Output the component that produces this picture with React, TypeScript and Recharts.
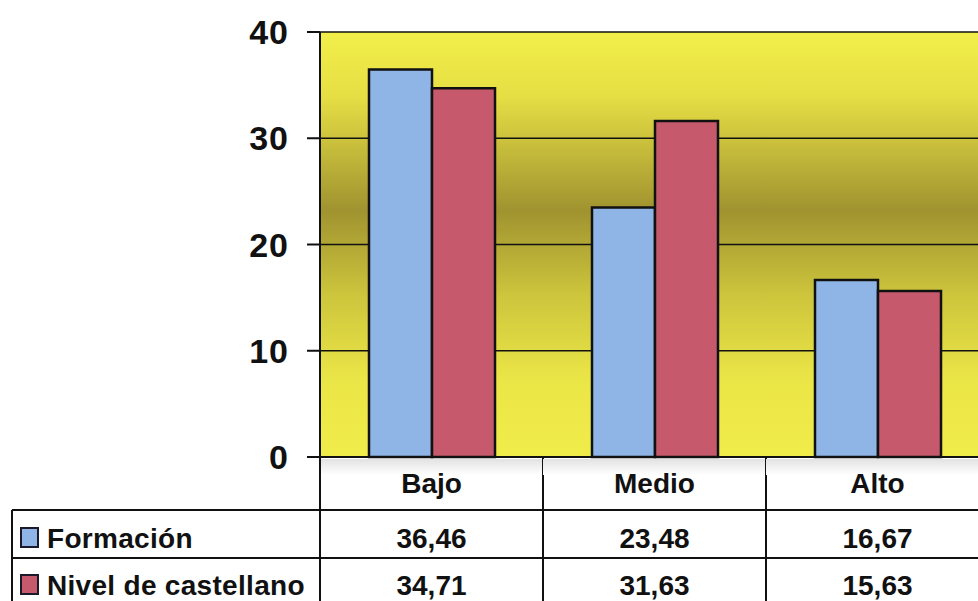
import React from 'react';
import { BarChart, Bar, XAxis, YAxis, CartesianGrid } from 'recharts';

const categories = ['Bajo', 'Medio', 'Alto'];
const formacion = [36.46, 23.48, 16.67];
const nivelCastellano = [34.71, 31.63, 15.63];
const seriesNames = ['Formación', 'Nivel de castellano'];
const yTicks = [0, 10, 20, 30, 40];

const colors = ['#8fb4e6', '#c65a6c'];
const font = '"Liberation Sans", Arial, sans-serif';

const data = categories.map((name, i) => ({
  name,
  formacion: formacion[i],
  nivel: nivelCastellano[i],
}));

// plot layout
const CHART_W = 990;
const CHART_H = 601;
const PLOT_LEFT = 320;
const PLOT_RIGHT = 989;
const PLOT_TOP = 32;
const PLOT_BOTTOM = 457;
const BAND = (PLOT_RIGHT - PLOT_LEFT) / categories.length;

// table rows
const ROW1_TOP = 510;
const ROW2_TOP = 558;
const HEADER_BASE = 493;
const ROW1_BASE = 548;
const ROW2_BASE = 595;

const fmt = (v: number) => v.toFixed(2).replace('.', ',');

const TableTick = (props: any) => {
  const { x, index, payload } = props;
  const left = x - BAND / 2;
  const right = x + BAND / 2;
  const textProps = {
    fontFamily: font,
    fontWeight: 700,
    fontSize: 28,
    fill: '#111',
    textAnchor: 'middle' as const,
  };
  return (
    <g>
      <rect x={left} y={PLOT_BOTTOM + 2} width={BAND} height={16} fill="url(#hdrGrad)" />
      {index === 0 && (
        <g>
          <line x1={left} x2={left} y1={PLOT_BOTTOM} y2={CHART_H} stroke="#111" strokeWidth={2} />
          <line x1={12} x2={12} y1={ROW1_TOP} y2={CHART_H} stroke="#111" strokeWidth={2} />
          <line x1={12} x2={PLOT_RIGHT} y1={ROW1_TOP} y2={ROW1_TOP} stroke="#111" strokeWidth={2} />
          <line x1={12} x2={PLOT_RIGHT} y1={ROW2_TOP} y2={ROW2_TOP} stroke="#111" strokeWidth={2} />
          {seriesNames.map((s, i) => (
            <g key={s}>
              <rect
                x={21}
                y={(i === 0 ? ROW1_BASE : ROW2_BASE) - 20}
                width={17}
                height={19}
                fill={colors[i]}
                stroke="#1a1a2a"
                strokeWidth={2}
              />
              <text
                x={47}
                y={i === 0 ? ROW1_BASE : ROW2_BASE}
                fontFamily={font}
                fontWeight={700}
                fontSize={28}
                letterSpacing={0.3}
                fill="#111"
              >
                {s}
              </text>
            </g>
          ))}
        </g>
      )}
      <line x1={right} x2={right} y1={PLOT_BOTTOM} y2={CHART_H} stroke="#111" strokeWidth={2} />
      <text x={x} y={HEADER_BASE} {...textProps}>
        {payload.value}
      </text>
      <text x={x} y={ROW1_BASE} {...textProps}>
        {fmt(formacion[index])}
      </text>
      <text x={x} y={ROW2_BASE} {...textProps}>
        {fmt(nivelCastellano[index])}
      </text>
    </g>
  );
};

const App: React.FC = () => {
  return (
    <div
      style={{
        position: 'absolute',
        left: 0,
        top: 0,
        width: 978,
        height: 601,
        overflow: 'hidden',
        background: '#fff',
      }}
    >
      <BarChart
        width={CHART_W}
        height={CHART_H}
        data={data}
        margin={{ top: PLOT_TOP, right: CHART_W - PLOT_RIGHT, bottom: 0, left: 0 }}
        barGap={0}
        barSize={63}
      >
        <defs>
          <linearGradient id="bgGrad" x1="0" y1="0" x2="0" y2="1">
            <stop offset="0%" stopColor="#f2ef4a" />
            <stop offset="15%" stopColor="#e6df44" />
            <stop offset="42%" stopColor="#a09330" />
            <stop offset="62%" stopColor="#cdc53c" />
            <stop offset="82%" stopColor="#ebe647" />
            <stop offset="100%" stopColor="#f0ec4a" />
          </linearGradient>
          <linearGradient id="hdrGrad" x1="0" y1="0" x2="0" y2="1">
            <stop offset="0%" stopColor="#e2e2e2" />
            <stop offset="100%" stopColor="#ffffff" />
          </linearGradient>
        </defs>
        <CartesianGrid
          vertical={false}
          stroke="#111"
          strokeWidth={1.5}
          fill="url(#bgGrad)"
          fillOpacity={1}
        />
        <XAxis
          dataKey="name"
          height={CHART_H - PLOT_BOTTOM}
          axisLine={{ stroke: '#111', strokeWidth: 2 }}
          tickLine={false}
          tick={<TableTick />}
          interval={0}
        />
        <YAxis
          domain={[0, 40]}
          ticks={yTicks}
          width={PLOT_LEFT}
          axisLine={{ stroke: '#111', strokeWidth: 2 }}
          tickLine={{ stroke: '#111', strokeWidth: 2 }}
          tickSize={13}
          tickMargin={18}
          tick={{ fontFamily: font, fontWeight: 700, fontSize: 34, fill: '#111', letterSpacing: 1 }}
        />
        <Bar dataKey="formacion" name={seriesNames[0]} fill={colors[0]} stroke="#111" strokeWidth={2.5} isAnimationActive={false} />
        <Bar dataKey="nivel" name={seriesNames[1]} fill={colors[1]} stroke="#111" strokeWidth={2.5} isAnimationActive={false} />
      </BarChart>
    </div>
  );
};

export default App;
